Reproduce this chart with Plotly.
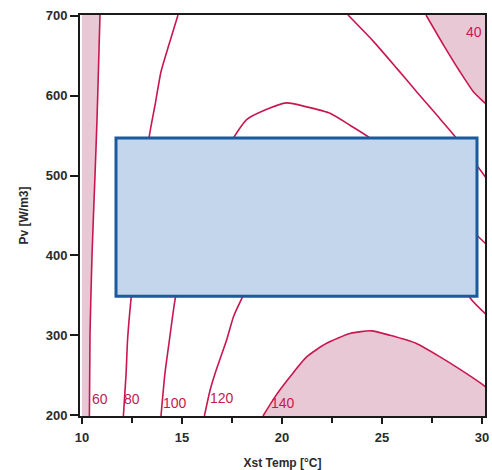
import plotly.graph_objects as go

# ---- data ----
X_RANGE = [9.9, 30.15]
Y_RANGE = [199, 701]

c60_x = [10.37, 10.40, 10.50, 10.65, 10.75, 10.82, 10.90]
c60_y = [199, 300, 400, 500, 570, 630, 701]

c80_x = [12.07, 12.20, 12.28, 12.45, 13.35, 13.65, 13.95, 14.30, 14.80]
c80_y = [199, 250, 295, 345, 547, 588, 630, 660, 701]

c100_x = [13.95, 14.15, 14.37, 14.65, 15.6, 17.57, 18.23, 19.15, 20.23, 21.23, 22.4, 23.4, 24.4, 27.0, 28.5, 30.3]
c100_y = [199, 253, 294, 344, 460, 547, 570, 582, 591, 586, 578, 563, 547, 490, 455, 412]

c120_x = [16.12, 16.40, 16.65, 17.23, 17.57, 17.95, 19.5, 22.0, 25.0, 28.0, 29.4, 30.3]
c120_y = [199, 231, 252, 294, 323, 344, 420, 470, 480, 420, 347, 324]

c140_x = [19.05, 19.65, 20.4, 21.23, 22.23, 23.4, 24.48, 25.4, 26.7, 27.9, 29.23, 30.07, 30.3]
c140_y = [199, 223, 248, 273, 290, 302.4, 305.6, 300, 290, 273, 252, 237.6, 233]

cdiag_x = [23.3, 24.57, 25.73, 26.73, 27.73, 28.65, 30.3]
cdiag_y = [701, 668, 634.5, 605, 576, 549, 494]

c40_x = [27.2, 28.07, 28.9, 29.57, 30.07, 30.3]
c40_y = [701, 663.7, 630, 605, 592.6, 587]

label_text = ["60", "80", "100", "120", "140", "40"]
label_x = [10.9, 12.48, 14.63, 16.98, 20.04, 29.62]
label_y = [220, 220, 215, 221, 215, 680]

box_x = [11.7, 29.75]
box_y = [349, 547]

x_ticks = [10, 15, 20, 25, 30]
y_ticks = [200, 300, 400, 500, 600, 700]

# ---- styles ----
LINE = "#c8174f"
SHADE = "#e9c8d6"
FONT = "Liberation Sans"
TXT = "#2b2b2b"

fig = go.Figure()

# shaded regions
fig.add_trace(go.Scatter(
    x=[10.0] + c60_x + [10.0], y=[c60_y[0]] + c60_y + [c60_y[-1]],
    fill="toself", fillcolor=SHADE, line=dict(width=0), mode="lines",
    hoverinfo="skip", showlegend=False))
fig.add_trace(go.Scatter(
    x=c140_x + [c140_x[-1], c140_x[0]], y=c140_y + [Y_RANGE[0] - 5, Y_RANGE[0] - 5],
    fill="toself", fillcolor=SHADE, line=dict(width=0), mode="lines",
    hoverinfo="skip", showlegend=False))
fig.add_trace(go.Scatter(
    x=c40_x + [c40_x[-1], c40_x[0]], y=c40_y + [Y_RANGE[1] + 5, Y_RANGE[1] + 5],
    fill="toself", fillcolor=SHADE, line=dict(width=0), mode="lines",
    hoverinfo="skip", showlegend=False))

# contour lines
for xs, ys in [(c60_x, c60_y), (c80_x, c80_y), (c100_x, c100_y), (c120_x, c120_y),
               (c140_x, c140_y), (cdiag_x, cdiag_y), (c40_x, c40_y)]:
    fig.add_trace(go.Scatter(x=xs, y=ys, mode="lines",
                             line=dict(color=LINE, width=1.6, shape="spline", smoothing=0.6),
                             hoverinfo="skip", showlegend=False))

# contour labels
for t, lx, ly in zip(label_text, label_x, label_y):
    fig.add_annotation(x=lx, y=ly, text=t, showarrow=False,
                       font=dict(family=FONT, size=14, color=LINE))

# blue rectangle
fig.add_shape(type="rect", x0=box_x[0], x1=box_x[1], y0=box_y[0], y1=box_y[1],
              xref="x", yref="y", layer="above",
              fillcolor="#c3d6eb", line=dict(color="#1b5b9c", width=3))

axis_common = dict(
    showgrid=False, zeroline=False, showline=True, mirror=True,
    linecolor="#1a1a1a", linewidth=2, ticks="outside", tickcolor="#1a1a1a",
    tickwidth=2, tickfont=dict(family=FONT, size=13, color=TXT, weight="bold"),
)

fig.update_xaxes(range=X_RANGE, tickvals=x_ticks, ticklen=6, ticklabelstandoff=2,
                 minor=dict(ticks="outside", dtick=2.5, tick0=10, ticklen=5, tickwidth=2, tickcolor="#1a1a1a"),
                 title=dict(text="Xst Temp [°C]", standoff=26,
                            font=dict(family=FONT, size=12, color=TXT, weight="bold")),
                 **axis_common)
fig.update_yaxes(range=Y_RANGE, tickvals=y_ticks, ticklen=8,
                 title=dict(text="Pv [W/m3]", standoff=14,
                            font=dict(family=FONT, size=12, color=TXT, weight="bold")),
                 **axis_common)

fig.update_layout(
    width=492, height=470,
    margin=dict(l=80, r=7, t=15, b=54, autoexpand=False),
    plot_bgcolor="white", paper_bgcolor="white",
)

# remove the default page margin so the figure sits at the window's top-left corner
fig.write_html("out.html",
               config={"displayModeBar": False},
               post_script="document.body.style.margin='0';document.body.style.overflow='hidden';")
